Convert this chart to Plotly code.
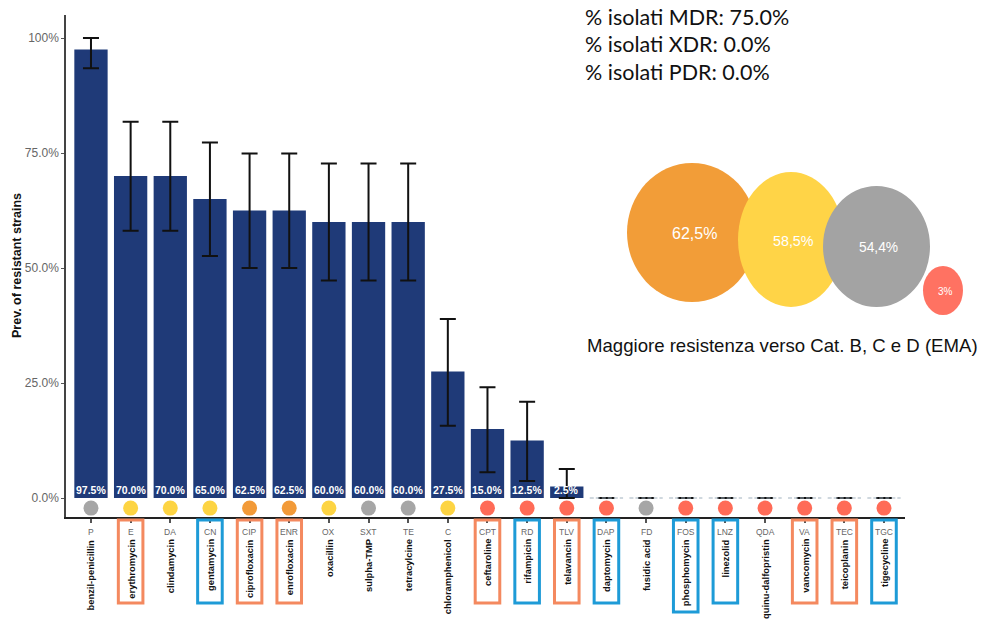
import plotly.graph_objects as go

# ---------------- data ----------------
abbrevs = ["P", "E", "DA", "CN", "CIP", "ENR", "OX", "SXT", "TE", "C", "CPT", "RD", "TLV",
           "DAP", "FD", "FOS", "LNZ", "QDA", "VA", "TEC", "TGC"]
names = ["benzil-penicillin", "erythromycin", "clindamycin", "gentamycin", "ciprofloxacin",
         "enrofloxacin", "oxacillin", "sulpha-TMP", "tetracylcine", "chloramphenicol",
         "ceftaroline", "rifampicin", "telavancin", "daptomycin", "fusidic acid",
         "phosphomycin", "linezolid", "quinu-dalfopristin", "vancomycin", "teicoplanin",
         "tigecycline"]
prevalence = [97.5, 70.0, 70.0, 65.0, 62.5, 62.5, 60.0, 60.0, 60.0, 27.5, 15.0, 12.5, 2.5,
              0, 0, 0, 0, 0, 0, 0, 0]
err_plus = [2.5, 11.8, 11.8, 12.3, 12.4, 12.4, 12.7, 12.7, 12.7, 11.4, 9.1, 8.4, 3.8,
            0, 0, 0, 0, 0, 0, 0, 0]
err_minus = [4.1, 11.9, 11.9, 12.4, 12.5, 12.5, 12.7, 12.7, 12.7, 11.8, 9.4, 8.8, 2.5,
             0, 0, 0, 0, 0, 0, 0, 0]
ema_cat = ["D", "C", "C", "C", "B", "B", "C", "D", "D", "C", "A", "A", "A",
           "A", "D", "A", "A", "A", "A", "A", "A"]
box_group = ["", "orange", "", "blue", "orange", "orange", "", "", "", "", "orange", "blue",
             "orange", "blue", "", "blue", "blue", "", "orange", "orange", "blue"]

y_tickvals = [0, 25, 50, 75, 100]
y_ticktext = ["0.0%", "25.0%", "50.0%", "75.0%", "100%"]

summary_lines = ["% isolati MDR: 75.0%", "% isolati XDR: 0.0%", "% isolati PDR: 0.0%"]

bubble_values = ["62,5%", "58,5%", "54,4%", "3%"]
bubble_cats = ["B", "C", "D", "A"]
bubble_caption = "Maggiore resistenza verso Cat. B, C e D (EMA)"

# ---------------- styles ----------------
BAR = "#1f3a78"
cat_colors = {"A": "#ff6b57", "B": "#f29a38", "C": "#fdd443", "D": "#a6a6a6"}
bubble_colors = {"A": "#ff7262", "B": "#f29d38", "C": "#ffd447", "D": "#a3a3a3"}
box_colors = {"orange": "#f4895f", "blue": "#1e9bd7"}
LONG_BOX = {"phosphomycin"}

# plot area in pixels
L, R, T, B = 66, 905, 15, 517
W, H = 981, 620


def px_x(x):
    return (x - L) / (R - L)


def px_y(y):
    return (B - y) / (B - T)


idx = list(range(len(abbrevs)))

fig = go.Figure()

# zero baseline dashes for zero-valued categories
zx, zy = [], []
for i, v in zip(idx, prevalence):
    if v == 0:
        zx += [i - 0.42, i + 0.42, None]
        zy += [0, 0, None]
fig.add_trace(go.Scatter(x=zx, y=zy, mode="lines",
                         line=dict(color="#9fb0bd", width=1, dash="4px,2px"),
                         hoverinfo="skip", showlegend=False))

fig.add_trace(go.Bar(
    x=idx, y=prevalence, width=0.84, marker=dict(color=BAR, line=dict(width=0)),
    error_y=dict(type="data", array=err_plus, arrayminus=err_minus, symmetric=False,
                 color="#111111", thickness=2, width=8),
    hoverinfo="skip", showlegend=False))

# category dots
fig.add_trace(go.Scatter(
    x=idx, y=[-2.2] * len(idx), mode="markers",
    marker=dict(size=15, color=[cat_colors[c] for c in ema_cat], line=dict(width=0)),
    cliponaxis=False, hoverinfo="skip", showlegend=False))

annotations = []
shapes = []

# value labels inside bars
for i, v in zip(idx, prevalence):
    if v > 0:
        annotations.append(dict(
            x=i, y=0, xref="x", yref="y", text=f"<b>{v:.1f}%</b>", showarrow=False,
            yanchor="middle", yshift=8,
            font=dict(family="Liberation Sans, Arial", size=10.5, color="white")))

# abbreviations and rotated names
for i, a, n, g in zip(idx, abbrevs, names, box_group):
    annotations.append(dict(
        x=i, y=px_y(532), xref="x", yref="paper", text=a, showarrow=False,
        yanchor="middle", xanchor="center",
        font=dict(family="Liberation Sans, Arial", size=8.5, color="#666666")))
    annotations.append(dict(
        x=i, y=px_y(537), xref="x", yref="paper", text=f"<b>{n}</b>", showarrow=False,
        yanchor="top", xanchor="center", textangle=-90,
        font=dict(family="Liberation Sans, Arial", size=9.4, color="#111111")))
    if g:
        bottom = 612 if n in LONG_BOX else 603
        shapes.append(dict(
            type="rect", xref="x", yref="paper", x0=i - 0.31, x1=i + 0.31,
            y0=px_y(520), y1=px_y(bottom),
            line=dict(color=box_colors[g], width=3), fillcolor="rgba(0,0,0,0)"))

# y axis title
annotations.append(dict(
    x=px_x(17), y=0.5, xref="paper", yref="paper", text="<b>Prev. of resistant strains</b>",
    showarrow=False, textangle=-90, xanchor="center", yanchor="middle",
    font=dict(family="Liberation Sans, Arial", size=12.5, color="#111111")))

# summary text
for k, line in enumerate(summary_lines):
    annotations.append(dict(
        x=px_x(583), y=px_y(17 + 27.5 * k), xref="paper", yref="paper", text=line,
        showarrow=False, xanchor="left", yanchor="middle",
        font=dict(family="Lato, Open Sans, sans-serif", size=21.5, color="#111111")))

# bubbles (geometry in pixels)
bubble_geom = [(692, 232.5, 65, 69.5, 16), (791, 239.5, 53, 67.5, 14.3),
               (876.5, 246.5, 53.5, 60.5, 13.8), (943, 290.5, 20, 24.5, 10)]
for (cx, cy, rx, ry, fs), val, cat in zip(bubble_geom, bubble_values, bubble_cats):
    shapes.append(dict(
        type="circle", xref="paper", yref="paper",
        x0=px_x(cx - rx), x1=px_x(cx + rx), y0=px_y(cy + ry), y1=px_y(cy - ry),
        line=dict(width=0), fillcolor=bubble_colors[cat], layer="above"))
    annotations.append(dict(
        x=px_x(cx + 2), y=px_y(cy + 1), xref="paper", yref="paper", text=val,
        showarrow=False, xanchor="center", yanchor="middle",
        font=dict(family="Liberation Sans, Arial", size=fs, color="white")))

annotations.append(dict(
    x=px_x(585), y=px_y(345), xref="paper", yref="paper", text=bubble_caption,
    showarrow=False, xanchor="left", yanchor="middle",
    font=dict(family="Liberation Sans, Arial", size=18.6, color="#111111")))

fig.update_layout(
    width=W, height=H,
    margin=dict(l=L, r=W - R, t=T, b=H - B, pad=0),
    paper_bgcolor="white", plot_bgcolor="white",
    xaxis=dict(range=[-0.63, 20.53], tickvals=idx, ticktext=[""] * len(idx),
               showgrid=False, zeroline=False, showline=True, linecolor="#222222",
               linewidth=1.5, ticks="outside", ticklen=4, tickcolor="#555555",
               tickwidth=1.5, fixedrange=True),
    yaxis=dict(range=[-4.13, 105.0], tickvals=y_tickvals, ticktext=y_ticktext,
               showgrid=False, zeroline=False, showline=True, linecolor="#444444",
               linewidth=1.5, ticks="outside", ticklen=3, tickcolor="#555555",
               tickfont=dict(family="Liberation Sans, Arial", size=12, color="#666666"),
               fixedrange=True),
    annotations=annotations,
    shapes=shapes,
    showlegend=False,
)

fig.write_html("out.html")
